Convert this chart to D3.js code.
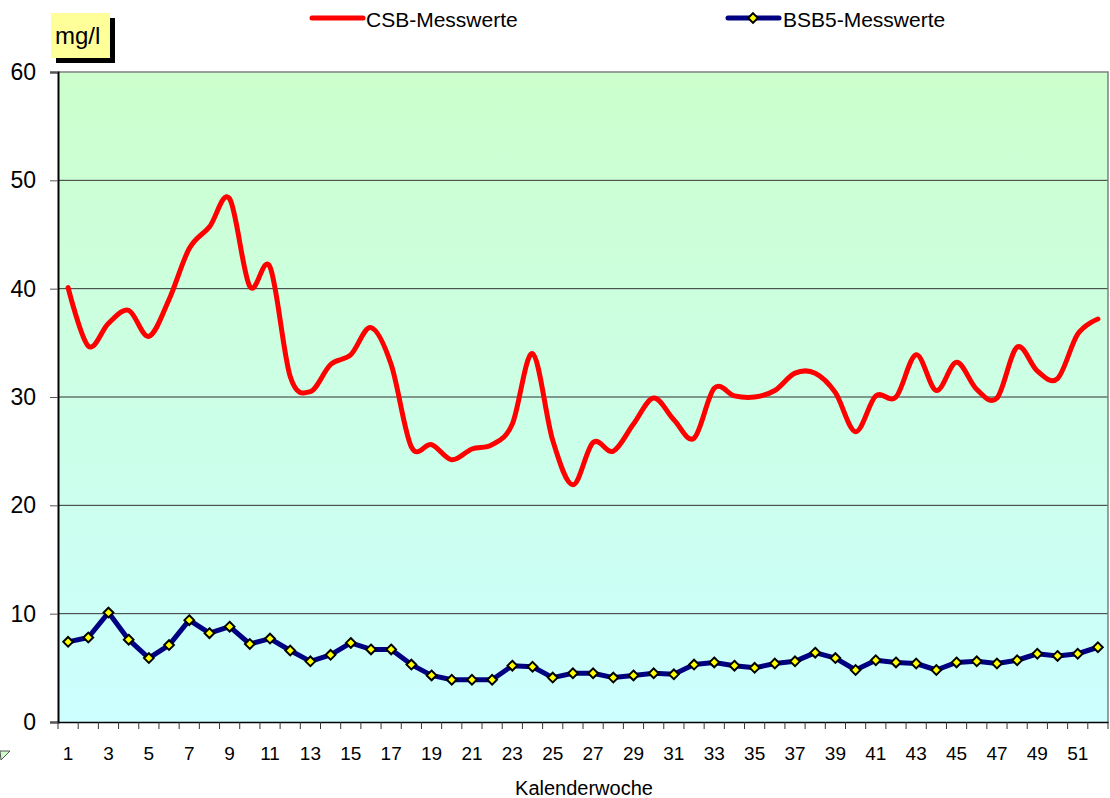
<!DOCTYPE html>
<html>
<head>
<meta charset="utf-8">
<script src="https://cdn.jsdelivr.net/npm/d3@7"></script>
<style>
  body { margin: 0; background: #fff; }
  svg { display: block; font-family: "Liberation Sans", Arial, sans-serif; }
</style>
</head>
<body>
<svg width="1110" height="798"></svg>
<script>
// Data
const weeks = d3.range(1, 53);
const csb = [40.1, 34.7, 36.8, 38.0, 35.6, 39.0, 43.7, 45.7, 48.3, 40.2,
             42.0, 31.9, 30.5, 33.0, 33.9, 36.4, 33.0, 25.4, 25.6, 24.2,
             25.2, 25.6, 27.5, 34.0, 26.0, 21.9, 25.8, 25.0, 27.5, 29.9,
             27.9, 26.2, 30.8, 30.1, 30.0, 30.6, 32.2, 32.2, 30.4, 26.8,
             30.1, 30.0, 33.9, 30.6, 33.2, 30.7, 29.9, 34.6, 32.4, 31.7,
             35.8, 37.2];
const bsb5 = [7.4, 7.8, 10.1, 7.6, 5.9, 7.1, 9.4, 8.2, 8.8, 7.2,
              7.7, 6.6, 5.6, 6.2, 7.3, 6.7, 6.7, 5.3, 4.3, 3.9,
              3.9, 3.9, 5.2, 5.1, 4.1, 4.5, 4.5, 4.1, 4.3, 4.5,
              4.4, 5.3, 5.5, 5.2, 5.0, 5.4, 5.6, 6.4, 5.9, 4.8,
              5.7, 5.5, 5.4, 4.8, 5.5, 5.6, 5.4, 5.7, 6.3, 6.1,
              6.3, 6.9];
const yTicks = [0, 10, 20, 30, 40, 50, 60];
const xLabels = weeks.filter(w => w % 2 === 1);

const svg = d3.select("svg");
const plot = {left: 58, right: 1108, top: 72, bottom: 722};

const x = d3.scaleBand().domain(weeks).range([plot.left, plot.right]);
const y = d3.scaleLinear().domain([0, 60]).range([plot.bottom, plot.top]);
const cx = w => x(w) + x.bandwidth() / 2;

// Background gradient
const defs = svg.append("defs");
const grad = defs.append("linearGradient")
    .attr("id", "bg").attr("x1", 0).attr("y1", 0).attr("x2", 0).attr("y2", 1);
grad.append("stop").attr("offset", "0%").attr("stop-color", "#ccffcc");
grad.append("stop").attr("offset", "100%").attr("stop-color", "#ccffff");

svg.append("rect")
    .attr("x", plot.left).attr("y", plot.top)
    .attr("width", plot.right - plot.left).attr("height", plot.bottom - plot.top)
    .attr("fill", "url(#bg)");

// Gridlines
svg.append("g").selectAll("line")
    .data(yTicks.filter(d => d > 0 && d < 60))
    .enter().append("line")
    .attr("x1", plot.left).attr("x2", plot.right)
    .attr("y1", d => y(d)).attr("y2", d => y(d))
    .attr("stroke", "#333").attr("stroke-width", 1);

// Frame top / right
svg.append("path")
    .attr("d", `M${plot.left},${plot.top}H${plot.right}V${plot.bottom}`)
    .attr("fill", "none").attr("stroke", "#808080").attr("stroke-width", 1.5);

// Y axis
const yAxis = svg.append("g")
    .attr("transform", `translate(${plot.left},0)`)
    .call(d3.axisLeft(y).tickValues(yTicks).tickSize(8).tickPadding(14));
yAxis.select(".domain").attr("stroke", "#000").attr("stroke-width", 2);
yAxis.selectAll(".tick line").attr("stroke", "#555");
yAxis.selectAll("text")
    .attr("font-size", 23).attr("fill", "#000")
    .attr("font-family", "Liberation Sans, Arial, sans-serif");

// X axis: ticks at category boundaries, labels on odd weeks
const xAxis = svg.append("g")
    .attr("transform", `translate(0,${plot.bottom})`)
    .call(d3.axisBottom(x).tickValues(xLabels).tickSize(0).tickPadding(25));
xAxis.select(".domain").attr("stroke", "#000").attr("stroke-width", 1.5);
xAxis.selectAll("text")
    .attr("font-size", 19).attr("fill", "#000")
    .attr("font-family", "Liberation Sans, Arial, sans-serif");

const bounds = weeks.map(w => x(w)).concat([plot.right]);
svg.append("g").selectAll("line")
    .data(bounds)
    .enter().append("line")
    .attr("x1", d => d).attr("x2", d => d)
    .attr("y1", plot.bottom).attr("y2", plot.bottom + 7)
    .attr("stroke", "#333").attr("stroke-width", 1);

svg.append("text")
    .attr("x", 584).attr("y", 795)
    .attr("text-anchor", "middle")
    .attr("font-size", 20)
    .text("Kalenderwoche");

// Lines
const smooth = d3.line()
    .x((d, i) => cx(weeks[i]))
    .y(d => y(d))
    .curve(d3.curveCardinal.tension(0));

svg.append("path")
    .datum(csb)
    .attr("d", smooth)
    .attr("fill", "none")
    .attr("stroke", "#ff0000")
    .attr("stroke-width", 5)
    .attr("stroke-linejoin", "round")
    .attr("stroke-linecap", "round");

const straight = d3.line()
    .x((d, i) => cx(weeks[i]))
    .y(d => y(d));

svg.append("path")
    .datum(bsb5)
    .attr("d", straight)
    .attr("fill", "none")
    .attr("stroke", "#000080")
    .attr("stroke-width", 5)
    .attr("stroke-linejoin", "round");

const diamond = d3.symbol().type(d3.symbolDiamond2).size(60);
svg.append("g").selectAll("path")
    .data(bsb5)
    .enter().append("path")
    .attr("d", diamond)
    .attr("transform", (d, i) => `translate(${cx(weeks[i])},${y(d)})`)
    .attr("fill", "#ffff00")
    .attr("stroke", "#000")
    .attr("stroke-width", 2);

// Legend
const legend = svg.append("g");
legend.append("line")
    .attr("x1", 312).attr("x2", 363).attr("y1", 18).attr("y2", 18)
    .attr("stroke", "#ff0000").attr("stroke-width", 5).attr("stroke-linecap", "round");
legend.append("text")
    .attr("x", 366).attr("y", 27).attr("font-size", 21)
    .text("CSB-Messwerte");

legend.append("line")
    .attr("x1", 728).attr("x2", 779).attr("y1", 18).attr("y2", 18)
    .attr("stroke", "#000080").attr("stroke-width", 5).attr("stroke-linecap", "round");
legend.append("path")
    .attr("d", diamond)
    .attr("transform", "translate(753,18)")
    .attr("fill", "#ffff00").attr("stroke", "#000").attr("stroke-width", 2);
legend.append("text")
    .attr("x", 783).attr("y", 27).attr("font-size", 21)
    .text("BSB5-Messwerte");

// Unit box with shadow
svg.append("rect")
    .attr("x", 56).attr("y", 18).attr("width", 59).attr("height", 45)
    .attr("fill", "#000");
svg.append("rect")
    .attr("x", 51).attr("y", 13).attr("width", 59).attr("height", 45)
    .attr("fill", "#ffff99");
svg.append("text")
    .attr("x", 55).attr("y", 44).attr("font-size", 24)
    .text("mg/l");

// small clipped shape at bottom left
svg.append("path")
    .attr("d", "M0,751L10,751L1,760Z")
    .attr("fill", "#ccffcc").attr("stroke", "#555").attr("stroke-width", 1);
</script>
</body>
</html>
